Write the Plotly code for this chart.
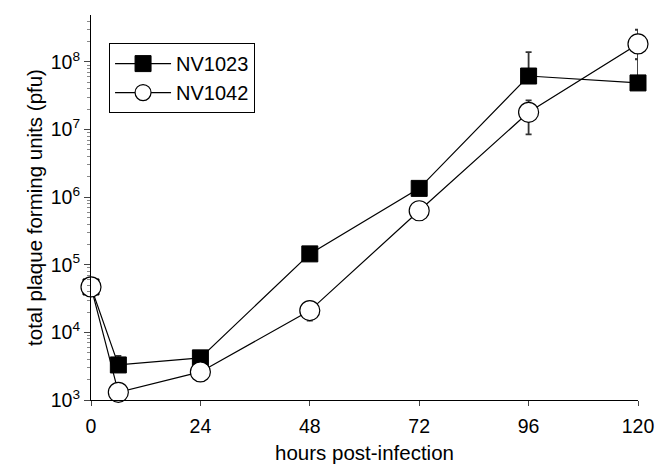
import plotly.graph_objects as go

hours = [0, 6, 24, 48, 72, 96, 120]
nv1023 = [4.7e4, 3.3e3, 4.2e3, 1.45e5, 1.35e6, 6.2e7, 4.9e7]
nv1023_err_up = [0, 1.2e3, 0, 0, 0, 7.8e7, 6.0e7]
nv1023_err_dn = [0, 0, 0, 0, 0, 0, 0]
nv1042 = [4.7e4, 1.3e3, 2.6e3, 2.1e4, 6.3e5, 1.8e7, 1.85e8]
nv1042_err_up = [0, 0, 0, 0, 0, 9e6, 1.15e8]
nv1042_err_dn = [0, 0, 0, 6e3, 0, 9.5e6, 7.5e7]

xticks = [0, 24, 48, 72, 96, 120]
yticks = [1e3, 1e4, 1e5, 1e6, 1e7, 1e8]
yticktext = ["10<sup>3</sup>", "10<sup>4</sup>", "10<sup>5</sup>", "10<sup>6</sup>",
             "10<sup>7</sup>", "10<sup>8</sup>"]

fig = go.Figure()
fig.add_trace(go.Scatter(
    x=hours, y=nv1023, name="NV1023", mode="lines+markers",
    line=dict(color="black", width=1.2),
    marker=dict(symbol="square", size=16, color="black", line=dict(color="black", width=1)),
    error_y=dict(type="data", symmetric=False, array=nv1023_err_up, arrayminus=nv1023_err_dn,
                 color="#333", thickness=1.8, width=3),
    cliponaxis=False,
))
fig.add_trace(go.Scatter(
    x=hours, y=nv1042, name="NV1042", mode="lines+markers",
    line=dict(color="black", width=1.2),
    marker=dict(symbol="circle", size=20, color="white", line=dict(color="black", width=1.2)),
    error_y=dict(type="data", symmetric=False, array=nv1042_err_up, arrayminus=nv1042_err_dn,
                 color="#333", thickness=1.8, width=3),
    cliponaxis=False,
))

fig.update_layout(
    width=667, height=465,
    margin=dict(l=91, r=29, t=15, b=65),
    plot_bgcolor="white", paper_bgcolor="white",
    font=dict(family="Liberation Sans, Arial, sans-serif", size=20, color="black"),
    showlegend=True,
    legend=dict(x=0.033, y=0.927, xanchor="left", yanchor="top",
                bordercolor="black", borderwidth=1, bgcolor="white",
                font=dict(size=20), itemwidth=56, tracegroupgap=2),
    xaxis=dict(range=[0, 120], tickvals=xticks, ticks="outside", ticklen=5,
               ticklabelstandoff=3, automargin=False,
               showline=True, linecolor="black", linewidth=1.2, showgrid=False, zeroline=False,
               title=dict(text="hours post-infection", standoff=10, font=dict(size=20.5)),
               tickfont=dict(size=19.5)),
    yaxis=dict(type="log", range=[3, 8.695], tickvals=yticks, ticktext=yticktext,
               ticks="outside", ticklen=6, showline=True, linecolor="black", linewidth=1.2,
               showgrid=False, zeroline=False, automargin=False,
               minor=dict(dtick="D1", ticks="outside", ticklen=3, tickcolor="#888", showgrid=False),
               title=dict(text="total plaque forming units (pfu)", standoff=2, font=dict(size=20.5)),
               tickfont=dict(size=19.5)),
)

fig.write_html("out.html")
